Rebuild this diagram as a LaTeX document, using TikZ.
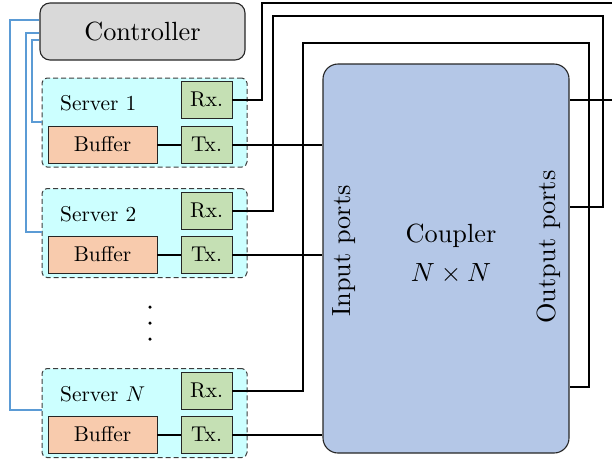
\documentclass[tikz,border=0pt]{standalone}
\usepackage{graphicx}
\usetikzlibrary{calc}
\definecolor{ctrlgray}{HTML}{D9D9D9}
\definecolor{srvcyan}{HTML}{CCFFFF}
\definecolor{trxgreen}{HTML}{C5E0B4}
\definecolor{bufor}{HTML}{F8CBAD}
\definecolor{cplblue}{HTML}{B4C7E7}
\definecolor{ctlblue}{HTML}{5B9BD5}
\definecolor{edge}{HTML}{262626}
\newcommand{\bigT}[1]{\scalebox{2.63}{#1}}
\newcommand{\smallT}[1]{\scalebox{2.14}{#1}}
\begin{document}
\begin{tikzpicture}[x=1pt,y=-1pt,
  ctrlbox/.style={draw=edge, line width=1.1pt, fill=ctrlgray, rounded corners=10pt,
    minimum width=205pt, minimum height=57pt, inner sep=0pt},
  serverbox/.style={draw=edge!90, dash pattern=on 5pt off 3pt, line width=1pt, fill=srvcyan, rounded corners=5pt,
    minimum width=205pt, minimum height=89pt, inner sep=0pt},
  trxbox/.style={draw=edge, line width=0.9pt, fill=trxgreen, minimum width=51pt,
    minimum height=37pt, inner sep=0pt},
  bufbox/.style={draw=edge, line width=0.9pt, fill=bufor, minimum width=109pt,
    minimum height=37pt, inner sep=0pt},
  cplbox/.style={draw=edge, line width=1.1pt, fill=cplblue, rounded corners=15pt,
    minimum width=246pt, minimum height=389pt, inner sep=0pt},
  wire/.style={black, line width=2pt},
  ctlwire/.style={ctlblue, line width=1.8pt},
  dotmark/.style={circle, fill=black, inner sep=0pt, minimum size=3.5pt}]
\useasboundingbox (0,0) rectangle (612,464);
\clip (0,0) rectangle (612,464);

% controller
\node[ctrlbox] (ctrl) at (142.5,31.5) {\bigT{Controller}};

% servers
\node[serverbox] (s1) at (144.5,122.5) {};
\node[serverbox] (s2) at (144.5,233) {};
\node[serverbox] (sN) at (144.5,413) {};

\node[trxbox] (rx1) at (206.5,99.5) {\smallT{Rx.}};
\node[trxbox] (tx1) at (206.5,144.5) {\smallT{Tx.}};
\node[bufbox] (b1) at (102.5,144.5) {\smallT{Buffer}};
\node[anchor=west, inner sep=0pt] (l1) at (60,103) {\smallT{Server 1}};

\node[trxbox] (rx2) at (206.5,210.5) {\smallT{Rx.}};
\node[trxbox] (tx2) at (206.5,254.5) {\smallT{Tx.}};
\node[bufbox] (b2) at (102.5,254.5) {\smallT{Buffer}};
\node[anchor=west, inner sep=0pt] (l2) at (60,214) {\smallT{Server 2}};

\node[trxbox] (rxN) at (206.5,390.5) {\smallT{Rx.}};
\node[trxbox] (txN) at (206.5,434.5) {\smallT{Tx.}};
\node[bufbox] (bN) at (102.5,434.5) {\smallT{Buffer}};
\node[anchor=west, inner sep=0pt] (lN) at (60,394) {\smallT{Server $N$}};

% dots
\node[dotmark] (d1) at (150,307) {};
\node[dotmark] (d2) at (150,323) {};
\node[dotmark] (d3) at (150,339) {};

% coupler
\node[cplbox] (cp) at (446,258.5) {};
\node (cpl) at (451,236) {\bigT{Coupler}};
\node (nxn) at (451,274) {\bigT{$N\times N$}};
\node[rotate=90] (inp) at (344,251) {\bigT{Input ports}};
\node[rotate=90] (outp) at (549,247) {\bigT{Output ports}};

% buffer to tx
\draw[wire] (b1.east) -- (tx1.west);
\draw[wire] (b2.east) -- (tx2.west);
\draw[wire] (bN.east) -- (txN.west);

% tx to coupler inputs
\draw[wire] (tx1.east) -- (tx1.east -| cp.west);
\draw[wire] (tx2.east) -- (tx2.east -| cp.west);
\draw[wire] (txN.east) -- (txN.east -| cp.west);

% coupler outputs to rx
\coordinate (o1) at (cp.east |- 0,100);
\coordinate (o2) at (cp.east |- 0,207);
\coordinate (oN) at (cp.east |- 0,387);
\draw[wire] (rx1.east) -| (262,3) -| (620,100) -- (o1);
\draw[wire] (rx2.east) -| (273,16) -| (603,207) -- (o2);
\draw[wire] (rxN.east) -| (303,43) -| (589,387) -- (oN);

% controller links
\draw[ctlwire] (ctrl.west |- 0,20) -| (10,410) -- (sN.west |- 0,410);
\draw[ctlwire] (ctrl.west |- 0,33) -| (26,232) -- (s2.west |- 0,232);
\draw[ctlwire] (ctrl.west |- 0,40) -| (32,122) -- (s1.west |- 0,122);
\end{tikzpicture}
\end{document}
